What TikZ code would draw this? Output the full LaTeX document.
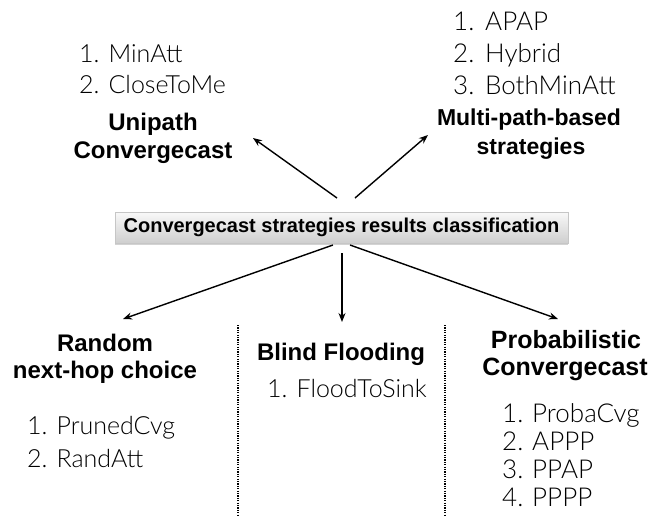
\documentclass[tikz,border=0pt]{standalone}
\usepackage{fontspec}
\setmainfont{Liberation Sans}
\newfontfamily\lightfont{Lato Light}
\usetikzlibrary{arrows.meta,shadows}
\begin{document}
\begin{tikzpicture}[x=1pt,y=-1pt,
  headtxt/.style={font=\fontsize{24}{28}\selectfont\bfseries, anchor=base, inner sep=0pt},
  itemtxt/.style={font=\lightfont\fontsize{25}{28}\selectfont, anchor=base west, inner sep=0pt, text=black},
  bigitem/.style={font=\lightfont\fontsize{26}{28}\selectfont, anchor=base west, inner sep=0pt, text=black},
  rootbox/.style={font=\fontsize{20}{24}\selectfont\bfseries, minimum width=453pt, minimum height=31pt,
     inner sep=0pt, top color=gray!5, bottom color=gray!38, draw=gray!45, line width=0.4pt,
     drop shadow={shadow xshift=0pt, shadow yshift=-2pt, opacity=0.35}},
  arr/.style={-{Stealth[length=9pt,width=7pt]}, line width=1.4pt},
  sepline/.style={line width=1.2pt, dash pattern=on 1.2pt off 1.2pt}]
\useasboundingbox (0,0) rectangle (649,515);

% central box
\node[rootbox] (root) at (341.5,227.5) {Convergecast strategies results classification};

% top-left group
\node[itemtxt] (l1a) at (79,62) {1. MinAtt};
\node[itemtxt] (l1b) at (79,93) {2. CloseToMe};
\node[headtxt] (h1a) at (153,130) {Unipath};
\node[headtxt] (h1b) at (153,158) {Convergecast};

% top-right group
\node[bigitem] (l2a) at (453,30) {\makebox[32pt][l]{1.}APAP};
\node[bigitem] (l2b) at (453,62) {\makebox[32pt][l]{2.}Hybrid};
\node[bigitem] (l2c) at (453,94) {\makebox[32pt][l]{3.}BothMinAtt};
\node[headtxt,font=\fontsize{23}{28}\selectfont\bfseries] (h2a) at (529,125) {Multi-path-based};
\node[headtxt,font=\fontsize{23}{28}\selectfont\bfseries] (h2b) at (531,154) {strategies};

% bottom-left group
\node[headtxt] (h3a) at (105,351) {Random};
\node[headtxt] (h3b) at (105,378) {next-hop choice};
\node[itemtxt] (l3a) at (27,434) {1. PrunedCvg};
\node[itemtxt] (l3b) at (27,467) {2. RandAtt};

% bottom-middle group
\node[headtxt] (h4) at (341,360) {Blind Flooding};
\node[itemtxt] (l4) at (267,397) {1. FloodToSink};

% bottom-right group
\node[headtxt,font=\fontsize{25}{28}\selectfont\bfseries] (h5a) at (566,348) {Probabilistic};
\node[headtxt,font=\fontsize{25}{28}\selectfont\bfseries] (h5b) at (565,375) {Convergecast};
\node[bigitem] (l5a) at (502,422) {\makebox[30pt][l]{1.}ProbaCvg};
\node[bigitem] (l5b) at (502,450) {\makebox[30pt][l]{2.}APPP};
\node[bigitem] (l5c) at (502,478) {\makebox[30pt][l]{3.}PPAP};
\node[bigitem] (l5d) at (502,506) {\makebox[30pt][l]{4.}PPPP};

% arrow end points
\coordinate (tUL) at (337,198);
\coordinate (eUL) at (253,138);
\coordinate (tUR) at (355,198);
\coordinate (eUR) at (428,135);
\coordinate (tDL) at (333,245);
\coordinate (eDL) at (123,319);
\coordinate (tDM) at (342,253);
\coordinate (eDM) at (342,322);
\coordinate (tDR) at (350,245);
\coordinate (eDR) at (558,319);

\draw[arr] (tUL) -- (eUL);
\draw[arr] (tUR) -- (eUR);
\draw[arr] (tDL) -- (eDL);
\draw[arr] (tDM) -- (eDM);
\draw[arr] (tDR) -- (eDR);

% dotted separators
\coordinate (s1a) at (238,325);
\coordinate (s1b) at (238,515);
\coordinate (s2a) at (445,325);
\coordinate (s2b) at (445,515);
\draw[sepline] (s1a) -- (s1b);
\draw[sepline] (s2a) -- (s2b);
\end{tikzpicture}
\end{document}
